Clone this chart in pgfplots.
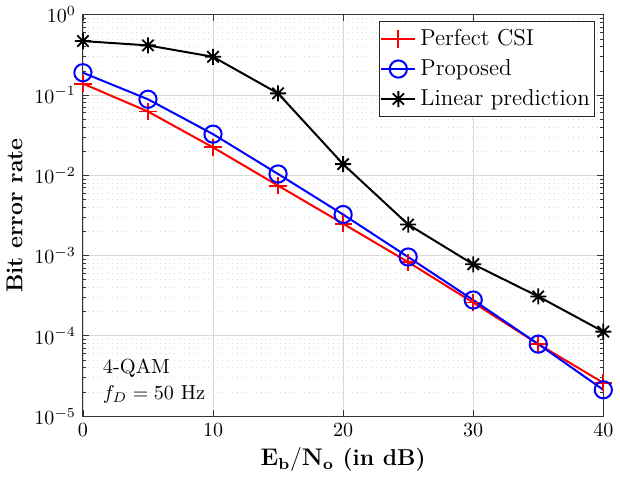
\documentclass[border=0pt]{standalone}
\usepackage{pgfplots}
\pgfplotsset{compat=1.18}
\pgfdeclareplotmark{mstar}{%
 \pgfpathmoveto{\pgfqpoint{0pt}{\pgfplotmarksize}}\pgfpathlineto{\pgfqpoint{0pt}{-\pgfplotmarksize}}%
 \pgfpathmoveto{\pgfqpoint{\pgfplotmarksize}{0pt}}\pgfpathlineto{\pgfqpoint{-\pgfplotmarksize}{0pt}}%
 \pgfpathmoveto{\pgfqpoint{0.707\pgfplotmarksize}{0.707\pgfplotmarksize}}\pgfpathlineto{\pgfqpoint{-0.707\pgfplotmarksize}{-0.707\pgfplotmarksize}}%
 \pgfpathmoveto{\pgfqpoint{-0.707\pgfplotmarksize}{0.707\pgfplotmarksize}}\pgfpathlineto{\pgfqpoint{0.707\pgfplotmarksize}{-0.707\pgfplotmarksize}}%
 \pgfusepathqstroke}
\begin{document}
\begin{tikzpicture}
\begin{semilogyaxis}[
  scale only axis,
  width=260pt, height=200.5pt,
  xmin=0, xmax=40, ymin=1e-5, ymax=1,
  xtick={0,10,20,30,40},
  ytick={1e-5,1e-4,1e-3,1e-2,1e-1,1},
  tick align=inside,
  major tick length=3pt, minor tick length=1.6pt,
  axis line style={black!80, line width=0.5pt},
  every tick/.style={black!80, line width=0.4pt},
  grid=both,
  major grid style={gray!30, line width=0.4pt},
  minor grid style={gray!30, dotted, line width=0.4pt},
  minor x tick num=0,
  ticklabel style={font=\fontsize{10.2}{12}\selectfont},
  xlabel={\textbf{$\mathbf{E_b/N_o}$ (in dB)}},
  ylabel={\textbf{Bit error rate}},
  label style={font=\fontsize{11.5}{14}\selectfont},
  xlabel style={yshift=1pt},
  ylabel style={yshift=-1pt},
  clip=false,
  legend cell align=left,
  legend style={at={(1,1)}, anchor=north east, xshift=-4pt, yshift=-3pt,
    draw=black!85, line width=0.5pt, font=\fontsize{11.5}{14}\selectfont,
    inner xsep=0.5pt, inner ysep=2pt, row sep=1.5pt},
]
\addplot[red, line width=1pt, mark=+, mark size=4.3pt, mark options={solid, line width=0.9pt}]
 coordinates {(0,0.139)(5,0.0624)(10,0.0223)(15,0.00745)(20,0.0025)(25,0.00083)(30,0.00026)(35,7.9e-5)(40,2.6e-5)};
\addlegendentry{Perfect CSI}
\addplot[blue, line width=1pt, mark=o, mark size=4.3pt, mark options={solid, line width=1pt}]
 coordinates {(0,0.19)(5,0.0887)(10,0.0326)(15,0.0104)(20,0.00325)(25,0.00096)(30,0.00028)(35,7.9e-5)(40,2.13e-5)};
\addlegendentry{Proposed}
\addplot[black, line width=1pt, mark=mstar, mark size=4pt, mark options={solid, line width=0.9pt}]
 coordinates {(0,0.471)(5,0.416)(10,0.30)(15,0.105)(20,0.0138)(25,0.00244)(30,0.00078)(35,0.00031)(40,0.000113)};
\addlegendentry{Linear prediction}
\node[anchor=south west, align=left, font=\fontsize{10.2}{12.5}\selectfont, inner sep=2pt]
  at (rel axis cs:0.03,0.022) {4-QAM\\$f_D = 50$ Hz};
\end{semilogyaxis}
\end{tikzpicture}
\end{document}
